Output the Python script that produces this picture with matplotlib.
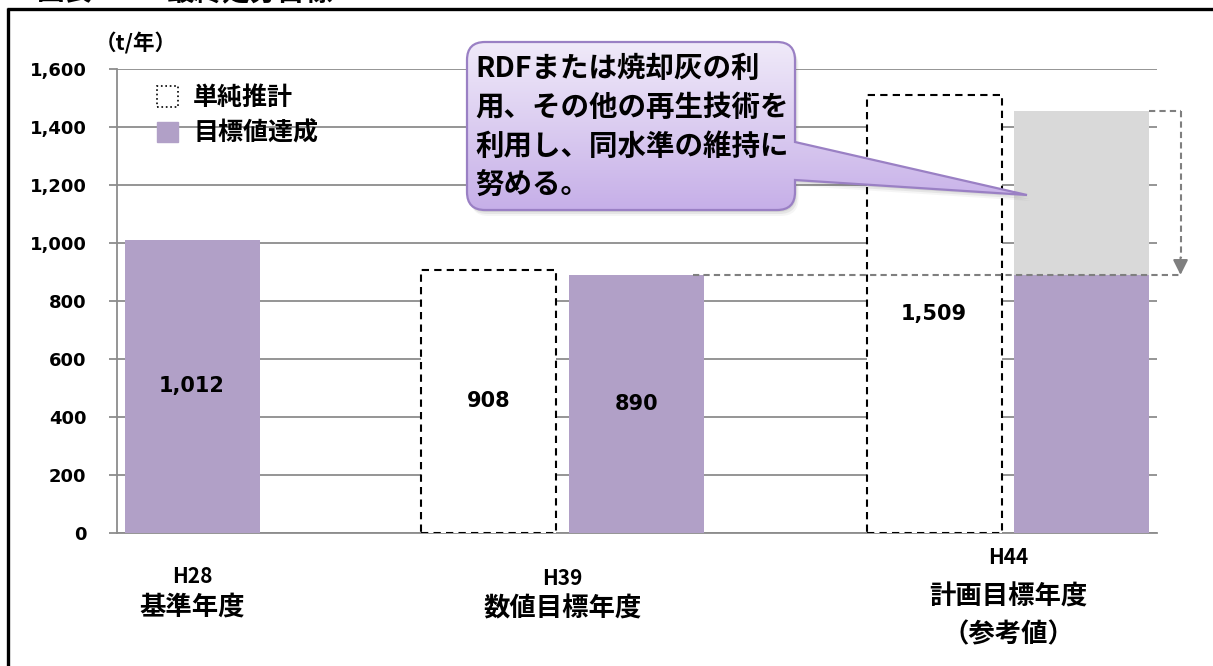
import matplotlib
matplotlib.use('Agg')
import matplotlib.pyplot as plt
import numpy as np
from matplotlib.patches import Patch, PathPatch
from matplotlib.path import Path
from matplotlib.colors import LinearSegmentedColormap
from matplotlib.font_manager import FontProperties

plt.rcParams['font.family'] = ['Noto Sans CJK JP', 'DejaVu Sans']

# data (t/年)
categories = ['H28', 'H39', 'H44']
category_names = [['基準年度'], ['数値目標年度'], ['計画目標年度', '（参考値）']]
simple_estimate = [None, 908, 1509]   # 単純推計
target_values = [1012, 890, 890]      # 目標値達成
target_labeled = [True, True, False]
recycled_part = [0, 0, 565]           # 再生技術で維持する分
y_ticks = [0, 200, 400, 600, 800, 1000, 1200, 1400, 1600]
note_lines = ['RDFまたは焼却灰の利', '用、その他の再生技術を', '利用し、同水準の維持に', '努める。']

PURPLE = '#b1a0c7'
GRAY_BAR = '#d9d9d9'
GRID = '#8c8c8c'
DASH_GRAY = '#7f7f7f'

W, H = 1213, 666
fig = plt.figure(figsize=(W / 100, H / 100), dpi=100)
ax = fig.add_axes([117 / W, 1 - 533 / H, 1040 / W, 464 / H])

centers = np.array([0.556, 3.30, 6.60])
offset = 0.548
width = 1.0

for i, cat in enumerate(categories):
    c = centers[i]
    if simple_estimate[i] is None:
        x_tgt = c
    else:
        x_est, x_tgt = c - offset, c + offset
        v = simple_estimate[i]
        ax.bar(x_est, v, width, facecolor='white', edgecolor='black',
               linestyle=(0, (3.5, 2.5)), linewidth=1.5, zorder=3)
        ax.text(x_est, v / 2, f'{v:,}', ha='center', va='center',
                family='DejaVu Sans', fontweight='bold', fontsize=15, zorder=5)
    v = target_values[i]
    ax.bar(x_tgt, v, width, color=PURPLE, zorder=3)
    if target_labeled[i]:
        ax.text(x_tgt, v / 2, f'{v:,}', ha='center', va='center',
                family='DejaVu Sans', fontweight='bold', fontsize=15, zorder=5)
    if recycled_part[i]:
        ax.bar(x_tgt, recycled_part[i], width, bottom=v, color=GRAY_BAR, zorder=3)

        # dashed guide: held level down to the target level
        top = v + recycled_part[i]
        right = x_tgt + width / 2
        gx = right + 0.23
        ax.plot([right, gx], [top, top], color=DASH_GRAY, lw=1.5,
                linestyle=(0, (3, 2)), clip_on=False, zorder=4)
        ax.plot([gx, gx], [top, v + 60], color=DASH_GRAY, lw=1.5,
                linestyle=(0, (3, 2)), clip_on=False, zorder=4)
        ax.annotate('', xy=(gx, v), xytext=(gx, v + 60),
                    arrowprops=dict(arrowstyle='-|>,head_width=0.45,head_length=0.9',
                                    color=DASH_GRAY, lw=1.5, shrinkA=0, shrinkB=0),
                    annotation_clip=False, zorder=4)
        start = centers[1] + offset + width / 2 - 0.08
        ax.plot([start, gx], [v, v], color=DASH_GRAY, lw=1.5,
                linestyle=(0, (3, 2)), clip_on=False, zorder=4)

ax.set_xlim(0, 1040 / 135)
ax.set_ylim(0, 1600)
ax.set_yticks(y_ticks)
ax.set_yticklabels([f'{t:,}' for t in y_ticks], family='DejaVu Sans',
                   fontweight='bold', fontsize=13)
ax.set_xticks([])
ax.yaxis.grid(True, color=GRID, lw=1.3)
ax.set_axisbelow(True)
for s in ['top', 'right']:
    ax.spines[s].set_visible(False)
for s in ['left', 'bottom']:
    ax.spines[s].set_color(GRID)
    ax.spines[s].set_linewidth(1.3)
ax.tick_params(axis='y', length=6, width=1.3, color=GRID, pad=16)

# category labels under the axis
code_off = [31, 33, 18]
name_off = [[53], [55], [46, 73]]
for i, cat in enumerate(categories):
    ax.annotate(cat, xy=(centers[i], 0), xytext=(0, -code_off[i]),
                textcoords='offset points', ha='center', va='center',
                fontsize=15, fontweight='bold', annotation_clip=False)
    for name, off in zip(category_names[i], name_off[i]):
        ax.annotate(name, xy=(centers[i], 0), xytext=(0, -off),
                    textcoords='offset points', ha='center', va='center',
                    fontsize=19, fontweight='bold', annotation_clip=False)

handles = [Patch(facecolor='white', edgecolor='black', linestyle=':', linewidth=1.2),
           Patch(facecolor=PURPLE, edgecolor=PURPLE)]
legend_font = FontProperties(family='Noto Sans CJK JP', weight='bold', size=18)
fig.legend(handles, ['単純推計', '目標値達成'], loc='upper left',
           bbox_to_anchor=(157 / W, 1 - 86 / H), frameon=False,
           borderpad=0, borderaxespad=0, handlelength=0.85, handleheight=0.9,
           handletextpad=0.6, labelspacing=0.45, prop=legend_font)

# overlay in pixel units for frame, caption and callout
ov = fig.add_axes([0, 0, 1, 1], zorder=10)
ov.set_axis_off()
ov.patch.set_visible(False)

ov.plot([7, W], [9, 9], color='black', lw=2.4, solid_capstyle='butt')
ov.plot([7.5, 7.5], [8, H], color='black', lw=2.4, solid_capstyle='butt')
ov.text(37, 0, '図表', fontsize=20, fontweight='bold', va='baseline')
ov.text(167, 0, '最終処分目標', fontsize=20, fontweight='bold', va='baseline')

ov.text(136, 43, '（t/年）', fontsize=15.5, fontweight='bold', ha='center', va='center')

# callout bubble
x0, x1, y0, y1, r = 467, 795, 42, 210, 18
tip = (1027, 195)
wy0, wy1 = 142, 180
verts = [(x0 + r, y0), (x1 - r, y0), (x1, y0), (x1, y0 + r), (x1, wy0), tip, (x1, wy1),
         (x1, y1 - r), (x1, y1), (x1 - r, y1), (x0 + r, y1), (x0, y1), (x0, y1 - r),
         (x0, y0 + r), (x0, y0), (x0 + r, y0), (x0 + r, y0)]
codes = [Path.MOVETO, Path.LINETO, Path.CURVE3, Path.CURVE3, Path.LINETO, Path.LINETO,
         Path.LINETO, Path.LINETO, Path.CURVE3, Path.CURVE3, Path.LINETO, Path.CURVE3,
         Path.CURVE3, Path.LINETO, Path.CURVE3, Path.CURVE3, Path.CLOSEPOLY]
bubble = Path(verts, codes)

for k, a in [(6, 0.06), (4, 0.1), (2, 0.12)]:
    sh = Path(np.array(verts) + [k * 0.6, k], codes)
    ov.add_patch(PathPatch(sh, facecolor='#606060', edgecolor='none', alpha=a))

patch = PathPatch(bubble, facecolor='none', edgecolor='#9a80c4', lw=1.6, zorder=3)
ov.add_patch(patch)
grad = np.linspace(0, 1, 256).reshape(-1, 1)
cmap = LinearSegmentedColormap.from_list('bubble', ['#f0eaf9', '#c6afe8'])
img = ov.imshow(grad, cmap=cmap, extent=(x0, tip[0] + 2, y1, y0), aspect='auto',
                origin='upper', zorder=2)
img.set_clip_path(patch)

for line, ly in zip(note_lines, [69, 108, 147, 185]):
    ov.text(475, ly, line, fontsize=20.5, fontweight='bold', va='center',
            ha='left', zorder=4)

ov.set_xlim(0, W)
ov.set_ylim(H, 0)

fig.savefig('out.png', dpi=100, facecolor='white')
